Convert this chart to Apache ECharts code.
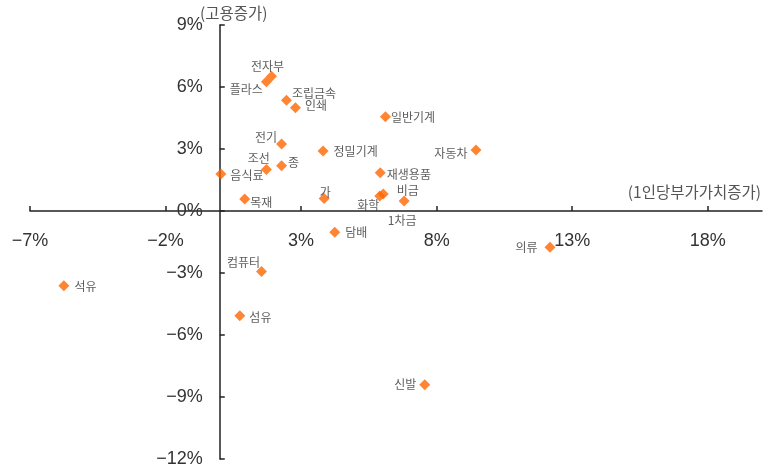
<!DOCTYPE html>
<html>
<head>
<meta charset="utf-8">
<script src="https://cdn.jsdelivr.net/npm/echarts@6/dist/echarts.min.js"></script>
<style>html,body{margin:0;padding:0;background:#fff}#c{width:764px;height:472px}</style>
</head>
<body>
<div id="c"></div>
<script>
// Data (x: 1인당 부가가치 증가 %, y: 고용증가 %)
var names = ['전자부','플라스','조립금속','인쇄','일반기계','전기','정밀기계','조선','종','음식료','재생용품','목재','가','화학','비금','1차금','자동차','의류','담배','컴퓨터','섬유','석유','신발'];
var xValues = [1.91,1.72,2.46,2.79,6.11,2.28,3.81,1.72,2.28,0.04,5.92,0.92,3.85,5.90,6.03,6.80,9.45,12.18,4.24,1.54,0.74,-5.75,7.56];
var yValues = [6.52,6.25,5.36,4.99,4.56,3.24,2.90,2.01,2.19,1.79,1.85,0.58,0.60,0.72,0.82,0.48,2.95,-1.75,-1.03,-2.93,-5.07,-3.62,-8.41];
var xTicks = [-7,-2,3,8,13,18];
var yTicks = [-12,-9,-6,-3,0,3,6,9];
var xTitle = '(1인당부가가치증가)';
var yTitle = '(고용증가)';

// label placement (style only, by name)
var place = {
  '전자부':{position:'top',offset:[-4,5]},
  '플라스':{position:'left',offset:[5,8]},
  '조립금속':{position:'right',offset:[-3,-7]},
  '인쇄':{position:'right',offset:[1,-2]},
  '일반기계':{position:'right',offset:[-3,1]},
  '전기':{position:'left',offset:[4,-7]},
  '정밀기계':{position:'right',offset:[2,0]},
  '조선':{position:'left',offset:[12,-11]},
  '종':{position:'right',offset:[-2,-3]},
  '음식료':{position:'right',offset:[1,1]},
  '재생용품':{position:'right',offset:[-2,2]},
  '목재':{position:'right',offset:[-3,3]},
  '가':{position:'top',offset:[1,8]},
  '화학':{position:'left',offset:[8,9]},
  '비금':{position:'right',offset:[5,-4]},
  '1차금':{position:'bottom',offset:[-2,5]},
  '자동차':{position:'left',offset:[0,3]},
  '의류':{position:'left',offset:[-4,0]},
  '담배':{position:'right',offset:[2,0]},
  '컴퓨터':{position:'left',offset:[7,-9]},
  '섬유':{position:'right',offset:[1,2]},
  '석유':{position:'right',offset:[2,1]},
  '신발':{position:'left',offset:[0,0]}
};

var data = names.map(function(n,i){
  return {name:n, value:[xValues[i], yValues[i]], label:{position:place[n].position}};
});

function pct(v){ return (v<0 ? '\u2212' + Math.abs(v) : v) + '%'; }

var W = 764, H = 472;
var G = {left:30, right:2, top:25, bottom:13};
var xMin = -7, xMax = 20, yMin = -12, yMax = 9;
var plotW = W - G.left - G.right, plotH = H - G.top - G.bottom;
// shift axes so they cross at zero
var xAxisOffset = -(plotH * (0 - yMin) / (yMax - yMin));
var yAxisOffset = -(plotW * (0 - xMin) / (xMax - xMin));

var chart = echarts.init(document.getElementById('c'), null, {renderer:'canvas'});
chart.setOption({
  animation:false,
  backgroundColor:'#ffffff',
  grid:{left:G.left, right:G.right, top:G.top, bottom:G.bottom, containLabel:false, outerBoundsMode:'none'},
  xAxis:{
    type:'value', min:xMin, max:xMax, position:'bottom', offset:xAxisOffset,
    axisLine:{onZero:false, lineStyle:{color:'#222', width:1.5}},
    axisTick:{show:true, inside:true, length:5, customValues:xTicks, lineStyle:{color:'#222', width:1.5}},
    axisLabel:{customValues:xTicks, formatter:pct, margin:21, color:'#333', fontSize:18, fontFamily:'Liberation Sans, Arial, sans-serif'},
    splitLine:{show:false}
  },
  yAxis:{
    type:'value', min:yMin, max:yMax, interval:3, position:'left', offset:yAxisOffset,
    axisLine:{onZero:false, lineStyle:{color:'#222', width:1.5}},
    axisTick:{show:true, inside:true, length:5, lineStyle:{color:'#222', width:1.5}},
    axisLabel:{formatter:pct, margin:17, color:'#333', fontSize:18, fontFamily:'Liberation Sans, Arial, sans-serif'},
    splitLine:{show:false}
  },
  graphic:[
    {type:'text', left:200, top:5, style:{text:yTitle, fill:'#555', font:'15.5px "Noto Sans CJK KR", sans-serif'}},
    {type:'text', right:3, top:184, style:{text:xTitle, fill:'#555', font:'15.5px "Noto Sans CJK KR", sans-serif'}}
  ],
  series:[{
    type:'scatter',
    symbol:'diamond',
    symbolSize:11,
    itemStyle:{color:'#FF6600'},
    data:data,
    label:{show:true, formatter:'{b}', distance:3, color:'#333', fontSize:12, fontFamily:'"Noto Sans CJK KR", sans-serif'},
    labelLayout:function(p){
      var o = place[names[p.dataIndex]].offset;
      return {dx:o[0], dy:o[1], hideOverlap:false};
    }
  }]
});
</script>
</body>
</html>
